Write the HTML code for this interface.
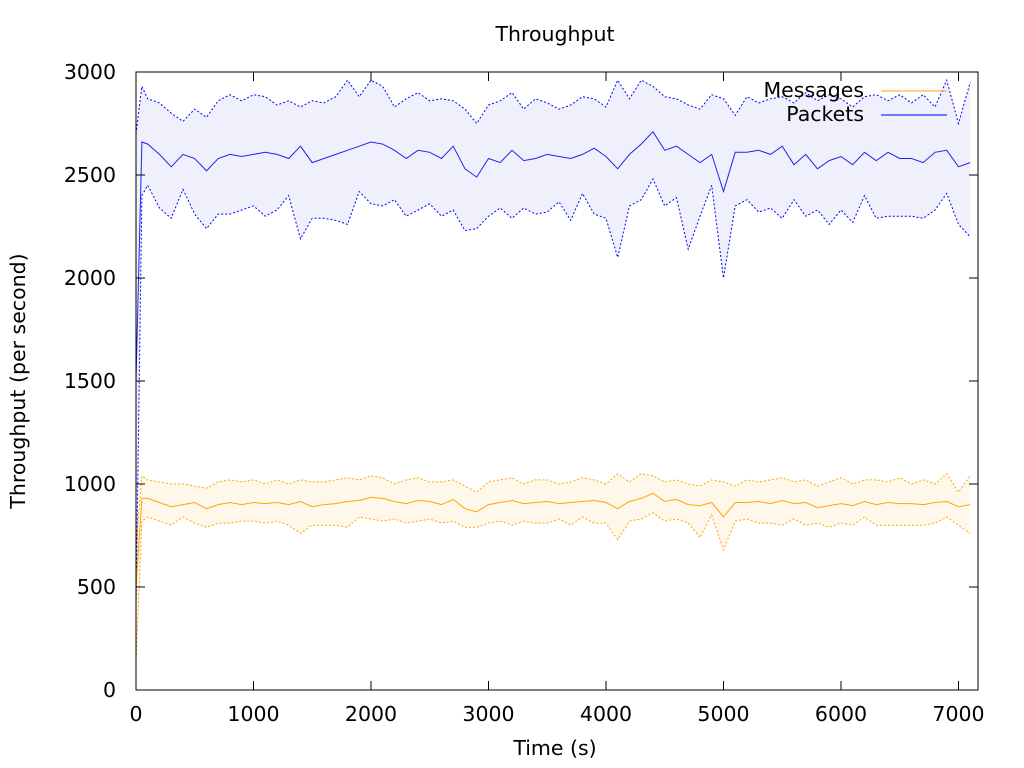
<!DOCTYPE html>
<html><head><meta charset="utf-8"><style>
html,body{margin:0;padding:0;background:#fff;}
svg{display:block;font-family:"DejaVu Sans","Liberation Sans",sans-serif;}
</style></head><body>
<svg id="chart" width="1024" height="768" viewBox="0 0 1024 768">
<defs><clipPath id="clip"><rect x="136" y="72" width="842" height="618"/></clipPath></defs>
<text x="555" y="41" font-size="20.5" text-anchor="middle">Throughput</text>
<text x="555" y="755" font-size="20.5" text-anchor="middle">Time (s)</text>
<text transform="translate(25,381) rotate(-90)" font-size="20.5" text-anchor="middle">Throughput (per second)</text>
<g id="bands" clip-path="url(#clip)"></g>
<g id="lines" clip-path="url(#clip)"></g>
<g id="axes"></g>
<g>
<text x="864" y="97" font-size="20.5" text-anchor="end">Messages</text>
<line x1="881" y1="91" x2="947" y2="91" stroke="#ffa500" stroke-width="1"/>
<text x="864" y="121" font-size="20.5" text-anchor="end">Packets</text>
<line x1="881" y1="115" x2="947" y2="115" stroke="#0000ff" stroke-width="1"/>
</g>
</svg>
<script>
const times=[0,50,100,200,300,400,500,600,700,800,900,1000,1100,1200,1300,1400,1500,1600,1700,1800,1900,2000,2100,2200,2300,2400,2500,2600,2700,2800,2900,3000,3100,3200,3300,3400,3500,3600,3700,3800,3900,4000,4100,4200,4300,4400,4500,4600,4700,4800,4900,5000,5100,5200,5300,5400,5500,5600,5700,5800,5900,6000,6100,6200,6300,6400,6500,6600,6700,6800,6900,7000,7100];
const packetsMean=[1500,2660,2650,2600,2540,2600,2580,2520,2580,2600,2590,2600,2610,2600,2580,2640,2560,2580,2600,2620,2640,2660,2650,2620,2580,2620,2610,2580,2640,2530,2490,2580,2560,2620,2570,2580,2600,2590,2580,2600,2630,2590,2530,2600,2650,2710,2620,2640,2600,2560,2600,2420,2610,2610,2620,2600,2640,2550,2600,2530,2570,2590,2550,2610,2570,2610,2580,2580,2560,2610,2620,2540,2560];
const packetsUpper=[2700,2930,2870,2850,2800,2760,2820,2780,2860,2890,2860,2890,2880,2840,2860,2830,2860,2850,2880,2960,2880,2960,2930,2830,2870,2900,2860,2870,2860,2820,2750,2840,2860,2900,2820,2870,2850,2820,2840,2880,2870,2830,2960,2870,2960,2930,2880,2870,2840,2820,2890,2870,2790,2880,2850,2870,2880,2850,2900,2860,2890,2870,2830,2880,2890,2860,2890,2850,2890,2830,2960,2750,2950];
const packetsLower=[400,2400,2450,2340,2290,2430,2310,2240,2310,2310,2330,2350,2300,2330,2400,2190,2290,2290,2280,2260,2420,2360,2350,2380,2300,2330,2360,2300,2330,2230,2240,2300,2340,2290,2340,2310,2320,2370,2280,2410,2310,2290,2100,2350,2380,2480,2350,2390,2140,2300,2450,2000,2350,2380,2320,2340,2290,2380,2300,2330,2260,2330,2270,2400,2290,2300,2300,2300,2290,2330,2410,2260,2200];
const messagesMean=[500,930,930,910,890,900,910,880,900,910,900,910,905,910,900,915,890,900,905,915,920,935,930,915,905,920,915,900,925,880,865,900,910,920,905,910,915,905,910,915,920,910,880,915,930,955,915,925,900,895,910,840,910,910,915,905,920,905,910,885,895,905,895,915,900,910,905,905,900,910,915,890,900];
const messagesUpper=[700,1040,1020,1010,1000,1000,990,980,1010,1020,1010,1020,1000,1020,1000,1020,1010,1010,1020,1030,1020,1040,1030,1000,1020,1030,1010,1010,1020,990,960,1010,1020,1030,1000,1020,1020,1000,1010,1030,1020,1000,1050,1010,1050,1040,1010,1020,1000,990,1020,1010,990,1020,1010,1020,1030,1010,1020,990,1010,1030,1000,1020,1020,1010,1030,1000,1020,1000,1050,960,1040];
const messagesLower=[130,820,840,820,800,840,810,790,810,810,820,820,810,820,800,760,800,800,800,790,840,830,820,830,810,820,830,810,820,790,790,810,820,800,820,810,810,830,800,840,810,810,730,820,830,860,820,830,810,740,850,680,820,830,810,810,800,830,800,810,790,810,800,840,800,800,800,800,800,810,840,800,760];
const xTicks=[0,1000,2000,3000,4000,5000,6000,7000];
const yTicks=[0,500,1000,1500,2000,2500,3000];

const L=136,R=978,T=72,B=690,XMAX=7166,YMAX=3000;
const sx=t=>L+(t/XMAX)*(R-L);
const sy=v=>B-(v/YMAX)*(B-T);
const NS='http://www.w3.org/2000/svg';
function mk(tag,attrs,parent){const e=document.createElementNS(NS,tag);for(const k in attrs)e.setAttribute(k,attrs[k]);parent.appendChild(e);return e;}
const bands=document.getElementById('bands'),lines=document.getElementById('lines'),axes=document.getElementById('axes');
function pts(arr){return arr.map((v,i)=>sx(times[i]).toFixed(1)+','+sy(v).toFixed(1));}
function band(up,lo,fill,name){
  const p=pts(up).concat(pts(lo).reverse());
  const e=mk('polygon',{points:p.join(' '),fill:fill,stroke:'none'},bands);
  
  
}
function line(arr,col,dash,name){
  const a={points:pts(arr).join(' '),fill:'none',stroke:col,'stroke-width':1};
  if(dash)a['stroke-dasharray']='2,2';
  const e=mk('polyline',a,lines);
  
  
}
band(packetsUpper,packetsLower,'#f0f0fc','packets-band');
band(messagesUpper,messagesLower,'#fff8ea','messages-band');
line(packetsUpper,'#0000ff',true,'packets-upper-line');
line(packetsLower,'#0000ff',true,'packets-lower-line');
line(packetsMean,'#2222ee',false,'packets-mean-line');
line(messagesUpper,'#ffa500',true,'messages-upper-line');
line(messagesLower,'#ffa500',true,'messages-lower-line');
line(messagesMean,'#ffa500',false,'messages-mean-line');

const frame=mk('rect',{x:L,y:T,width:R-L,height:B-T,fill:'none',stroke:'#000','stroke-width':1},axes);


xTicks.forEach(t=>{
  const x=sx(t);
  mk('line',{x1:x,y1:B,x2:x,y2:B-9,stroke:'#000'},axes);
  mk('line',{x1:x,y1:T,x2:x,y2:T+9,stroke:'#000'},axes);
  const tx=mk('text',{x:x,y:B+31,'font-size':20.5,'text-anchor':'middle'},axes);
  tx.textContent=t;
  
  
});
yTicks.forEach(v=>{
  const y=sy(v);
  mk('line',{x1:L,y1:y,x2:L+9,y2:y,stroke:'#000'},axes);
  mk('line',{x1:R,y1:y,x2:R-9,y2:y,stroke:'#000'},axes);
  const tx=mk('text',{x:116,y:y+7,'font-size':20.5,'text-anchor':'end'},axes);
  tx.textContent=v;
  
  
});
</script>
</body></html>
